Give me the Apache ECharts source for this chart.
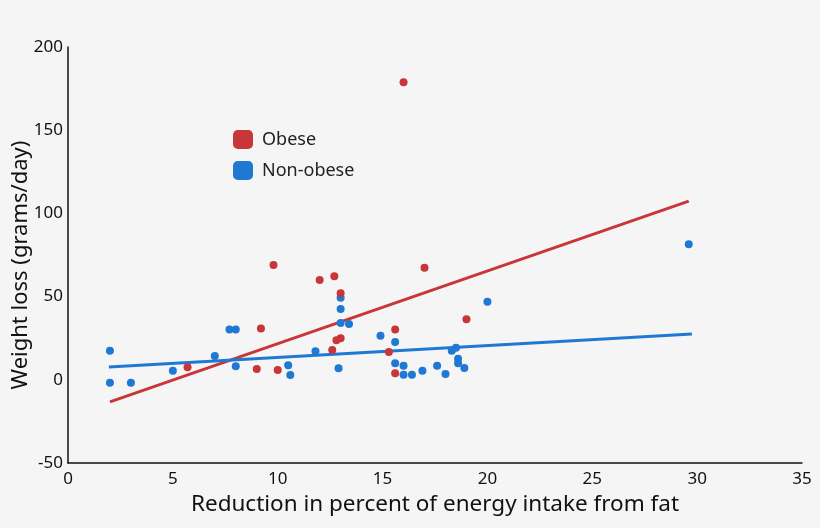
<!DOCTYPE html>
<html>
<head>
<meta charset="utf-8">
<script src="https://cdn.jsdelivr.net/npm/echarts@6/dist/echarts.min.js"></script>
<style>
html,body{margin:0;padding:0;background:#f5f5f5;}
#c{width:820px;height:528px;}
</style>
</head>
<body>
<div id="c"></div>
<script>
// Data (x = reduction in % energy from fat, y = weight loss g/day)
const obesePoints = [
  [5.7, 7.5], [9.0, 6.5], [9.2, 30.9], [9.8, 69.0], [10.0, 5.9],
  [12.0, 60.0], [12.7, 62.2], [13.0, 52.0], [13.0, 24.9], [12.8, 23.7],
  [12.6, 17.9], [15.6, 30.3], [15.3, 16.7], [15.6, 3.9], [16.0, 178.8],
  [17.0, 67.4], [19.0, 36.4]
];
const nonObesePoints = [
  [2.0, 17.5], [2.0, -1.7], [3.0, -1.7], [5.0, 5.5], [7.0, 14.3],
  [7.7, 30.3], [8.0, 30.3], [8.0, 8.1], [10.5, 8.7], [10.6, 2.9],
  [11.8, 17.1], [12.9, 6.9], [13.0, 49.3], [13.0, 42.5], [13.0, 34.1],
  [13.4, 33.5], [14.9, 26.5], [15.6, 22.7], [15.6, 9.9], [16.0, 8.5],
  [16.0, 3.1], [16.4, 3.1], [16.9, 5.5], [17.6, 8.5], [18.0, 3.5],
  [18.3, 17.5], [18.5, 19.3], [18.6, 12.7], [18.6, 9.9], [18.9, 7.1],
  [20.0, 46.9], [29.6, 81.4]
];
const obeseFit = [[2.0, -13.3], [29.6, 107.4]];
const nonObeseFit = [[1.95, 7.7], [29.75, 27.5]];
const xTicks = [0, 5, 10, 15, 20, 25, 30, 35];
const yTicks = [-50, 0, 50, 100, 150, 200];

const RED = '#c9363a';
const BLUE = '#1f78d2';
const FONT = 'Noto Sans';

const chart = echarts.init(document.getElementById('c'));
chart.setOption({
  backgroundColor: '#f5f5f5',
  animation: false,
  textStyle: { fontFamily: FONT },
  grid: { left: 68, right: 18, top: 47, bottom: 65, containLabel: false, outerBoundsMode: 'none' },
  legend: {
    data: ['Obese', 'Non-obese'],
    orient: 'vertical',
    left: 233, top: 130, padding: 0,
    icon: 'roundRect',
    itemWidth: 20, itemHeight: 19, itemGap: 12,
    textStyle: { fontSize: 18, color: '#222', fontFamily: FONT, padding: [0, 0, 0, 4] }
  },
  xAxis: {
    type: 'value', min: xTicks[0], max: xTicks[xTicks.length - 1], interval: 5,
    name: 'Reduction in percent of energy intake from fat',
    nameLocation: 'middle', nameGap: 30,
    nameTextStyle: { fontSize: 22.5, color: '#111', fontFamily: FONT },
    axisLine: { show: true, onZero: false, lineStyle: { color: '#111', width: 1.5 } },
    axisTick: { show: false },
    axisLabel: { fontSize: 17, color: '#111', margin: 8, fontFamily: FONT },
    splitLine: { show: false }
  },
  yAxis: {
    type: 'value', min: yTicks[0], max: yTicks[yTicks.length - 1], interval: 50,
    name: 'Weight loss (grams/day)',
    nameLocation: 'middle', nameGap: 36, nameMoveOverlap: false,
    nameTextStyle: { fontSize: 22, color: '#111', fontFamily: FONT, padding: [0, 20, 0, 0] },
    axisLine: { show: true, onZero: false, lineStyle: { color: '#111', width: 1.5 } },
    axisTick: { show: false },
    axisLabel: { fontSize: 17, color: '#111', margin: 5, fontFamily: FONT },
    splitLine: { show: false }
  },
  series: [
    { name: 'Obese fit', type: 'line', data: obeseFit, symbol: 'none',
      lineStyle: { color: RED, width: 3 }, itemStyle: { color: RED }, z: 1, silent: true },
    { name: 'Non-obese fit', type: 'line', data: nonObeseFit, symbol: 'none',
      lineStyle: { color: BLUE, width: 3 }, itemStyle: { color: BLUE }, z: 1, silent: true },
    { name: 'Obese', type: 'scatter', data: obesePoints, symbolSize: 8,
      itemStyle: { color: RED, opacity: 1 }, z: 3 },
    { name: 'Non-obese', type: 'scatter', data: nonObesePoints, symbolSize: 8,
      itemStyle: { color: BLUE, opacity: 1 }, z: 2 }
  ]
});
</script>
</body>
</html>
